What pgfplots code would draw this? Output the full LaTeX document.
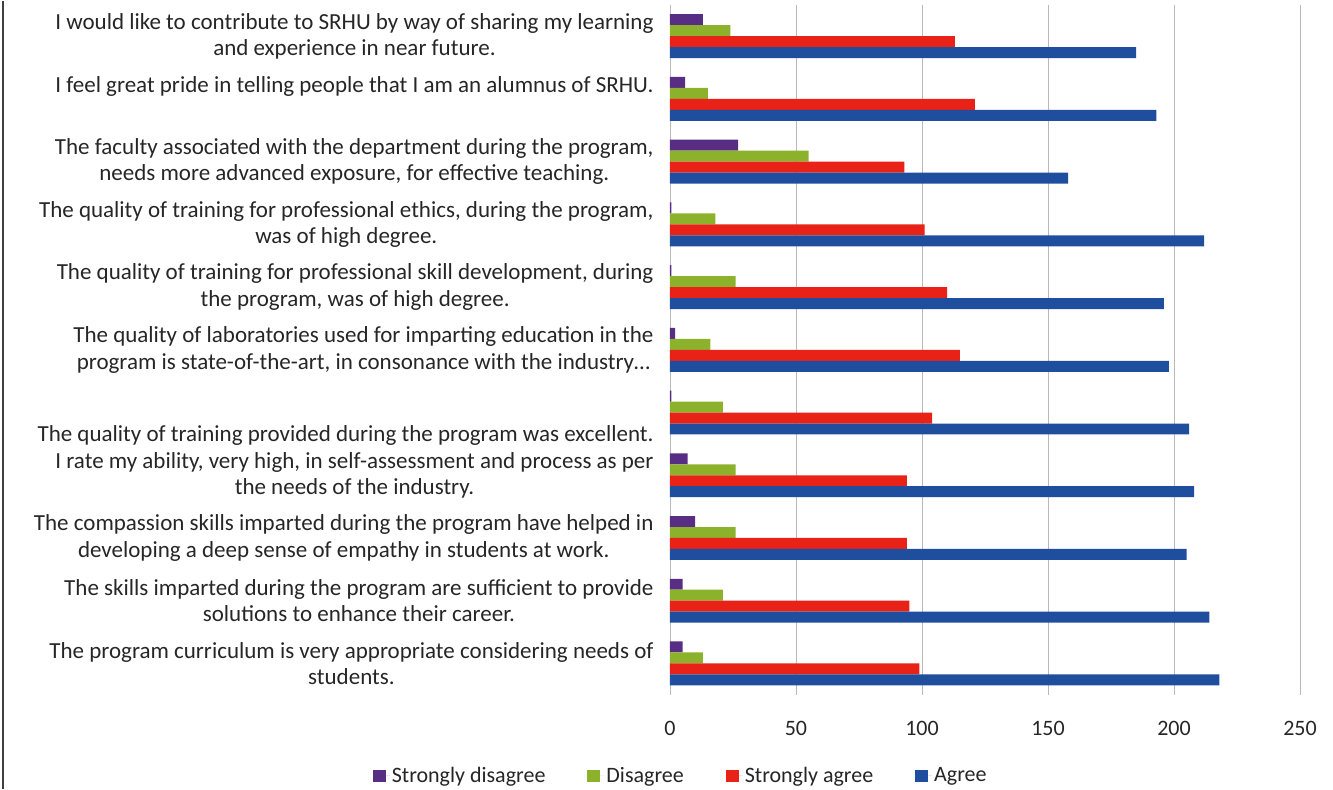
\documentclass[border=0pt]{standalone}
\usepackage{pgfplots}
\pgfplotsset{compat=1.18}
\usepackage{fontspec}
\setmainfont{Carlito}
\definecolor{cpurple}{RGB}{88,46,132}
\definecolor{cgreen}{RGB}{140,178,44}
\definecolor{cred}{RGB}{232,34,22}
\definecolor{cblue}{RGB}{32,78,158}
\begin{document}
\begin{tikzpicture}
\begin{axis}[
  scale only axis,
  width=630bp, height=690bp,
  xbar=0pt,
  bar width=0.175,
  y dir=reverse,
  xmin=0, xmax=250,
  ymin=-0.5, ymax=10.5,
  xtick={0,50,100,150,200,250},
  ytick={0,1,2,3,4,5,6,7,8,9,10},
  yticklabels={
    {I would like to contribute to SRHU by way of sharing my learning\\and experience in near future.},
    {\raisebox{6.3bp}[0pt][0pt]{I feel great pride in telling people that I am an alumnus of SRHU.}},
    {The faculty associated with the department during the program,\\needs more advanced exposure, for effective teaching.},
    {The quality of training for professional ethics, during the program,\\was of high degree.},
    {The quality of training for professional skill development, during\\the program, was of high degree.},
    {The quality of laboratories used for imparting education in the\\program is state-of-the-art, in consonance with the industry…},
    {\raisebox{-28.7bp}[0pt][0pt]{The quality of training provided during the program was excellent.}},
    {I rate my ability, very high, in self-assessment and process as per\\the needs of the industry.},
    {The compassion skills imparted during the program have helped in\\developing a deep sense of empathy in students at work.},
    {The skills imparted during the program are sufficient to provide\\solutions to enhance their career.},
    {The program curriculum is very appropriate considering needs of\\students.}
  },
  yticklabel style={align=center, font=\fontsize{23bp}{26.5bp}\selectfont, xshift=-13bp, text=black!85},
  xticklabel style={font=\fontsize{22bp}{24bp}\selectfont, yshift=-23bp, text=black!85},
  /pgf/number format/assume math mode=true,
  xmajorgrids, ymajorgrids=false,
  major grid style={gray!55, line width=0.9pt},
  axis line style={draw=none},
  major tick length=0pt,
  legend style={at={(0.017,-0.117)}, anchor=center, draw=none, legend columns=4,
    font=\fontsize{22bp}{24bp}\selectfont, text=black!85,
    /tikz/every even column/.append style={column sep=40bp}},
  legend image code/.code={\fill[#1] (0bp,-6bp) rectangle (13bp,6bp); \path (0bp,0bp) -- (17bp,0bp);},
]
\addplot[fill=cpurple, draw=none] coordinates {
 (13,0) (6,1) (27,2) (0.5,3) (0.5,4) (2,5) (0.5,6) (7,7) (10,8) (5,9) (5,10)};
\addplot[fill=cgreen, draw=none] coordinates {
 (24,0) (15,1) (55,2) (18,3) (26,4) (16,5) (21,6) (26,7) (26,8) (21,9) (13,10)};
\addplot[fill=cred, draw=none] coordinates {
 (113,0) (121,1) (93,2) (101,3) (110,4) (115,5) (104,6) (94,7) (94,8) (95,9) (99,10)};
\addplot[fill=cblue, draw=none] coordinates {
 (185,0) (193,1) (158,2) (212,3) (196,4) (198,5) (206,6) (208,7) (205,8) (214,9) (218,10)};
\legend{Strongly disagree, Disagree, Strongly agree, Agree}
\end{axis}
\pgfresetboundingbox
\path (current axis.south west) ++(-670bp,-94bp) rectangle ++(1333bp,788bp);
\draw[black!75, line width=1.6bp] (current axis.south west) ++(-667bp,-94bp) -- ++(0,788bp);
\end{tikzpicture}
\end{document}
